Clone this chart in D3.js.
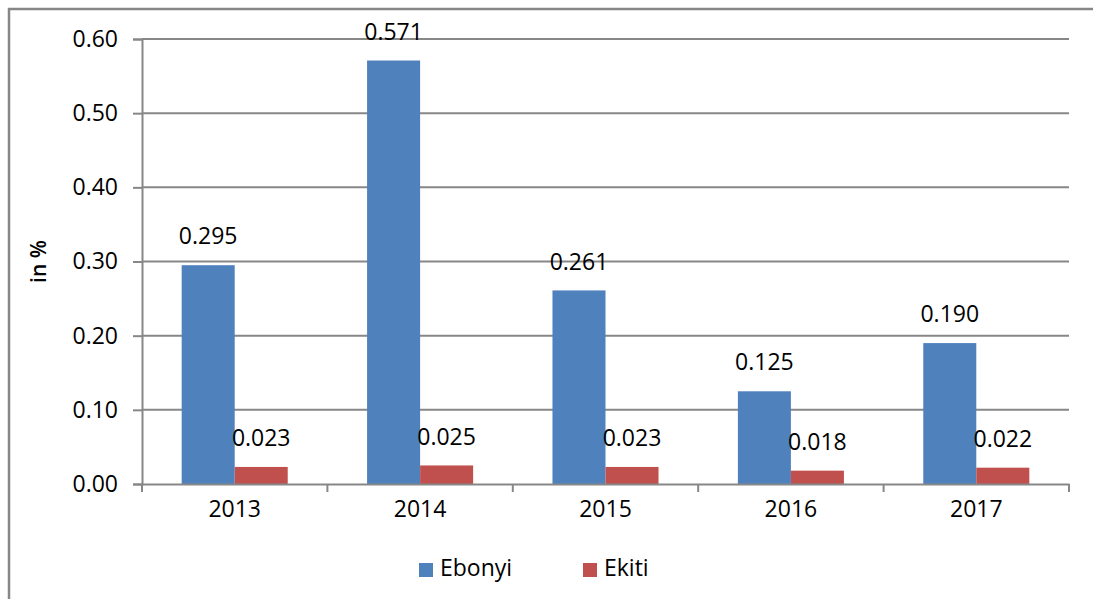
<!DOCTYPE html>
<html>
<head>
<meta charset="utf-8">
<script src="https://cdn.jsdelivr.net/npm/d3@7"></script>
<style>
  body { margin: 0; background: #fff; }
  text { font-family: "Open Sans", sans-serif; fill: #000; }
</style>
</head>
<body>
<script>
const width = 1093;
const height = 599;

const years = ["2013", "2014", "2015", "2016", "2017"];
const seriesNames = ["Ebonyi", "Ekiti"];
const ebonyi = [0.295, 0.571, 0.261, 0.125, 0.190];
const ekiti = [0.023, 0.025, 0.023, 0.018, 0.022];
const yTicks = [0, 0.1, 0.2, 0.3, 0.4, 0.5, 0.6];
const colors = ["#4F81BD", "#C0504D"];

const rows = years.map((y, i) => ({year: y, values: [ebonyi[i], ekiti[i]]}));

const margin = {top: 39, right: 24, bottom: 115, left: 142};
const fontSize = 23;
const gridColor = "#878787";

const svg = d3.select("body").append("svg")
              .attr("width", width)
              .attr("height", height);

// outer frame (runs off the right and bottom edges)
svg.append("rect")
   .attr("x", 9).attr("y", 9)
   .attr("width", width + 20).attr("height", height + 20)
   .attr("fill", "none")
   .attr("stroke", gridColor)
   .attr("stroke-width", 2.5);

const x = d3.scaleBand()
            .domain(years)
            .range([margin.left, width - margin.right]);

const groupWidth = x.bandwidth() * 0.572;
const xInner = d3.scaleBand()
                 .domain(seriesNames)
                 .range([0, groupWidth]);

const y = d3.scaleLinear()
            .domain([0, 0.6])
            .range([height - margin.bottom, margin.top]);

// gridlines
svg.append("g")
   .selectAll("line")
   .data(yTicks.slice(1))
   .join("line")
   .attr("x1", margin.left).attr("x2", width - margin.right)
   .attr("y1", d => y(d)).attr("y2", d => y(d))
   .attr("stroke", gridColor)
   .attr("stroke-width", 2);

// y axis
const yAxis = svg.append("g")
   .attr("transform", `translate(${margin.left},0)`)
   .call(d3.axisLeft(y).tickValues(yTicks).tickFormat(d3.format(".2f")).tickSize(9).tickPadding(15));
yAxis.select(".domain").attr("stroke", gridColor).attr("stroke-width", 2);
yAxis.selectAll(".tick line").attr("stroke", gridColor).attr("stroke-width", 2);
yAxis.selectAll(".tick text").style("font-size", fontSize + "px").attr("font-family", null);

// bars
const groups = svg.append("g")
   .selectAll("g")
   .data(rows)
   .join("g")
   .attr("transform", d => `translate(${x(d.year) + (x.bandwidth() - groupWidth) / 2},0)`);

groups.selectAll("rect")
   .data(d => d.values.map((v, i) => ({name: seriesNames[i], value: v, i})))
   .join("rect")
   .attr("x", d => xInner(d.name))
   .attr("width", xInner.bandwidth())
   .attr("y", d => y(d.value))
   .attr("height", d => y(0) - y(d.value))
   .attr("fill", d => colors[d.i]);

groups.selectAll("text")
   .data(d => d.values.map((v, i) => ({name: seriesNames[i], value: v})))
   .join("text")
   .attr("x", d => xInner(d.name) + xInner.bandwidth() / 2)
   .attr("y", d => y(d.value) - 27)
   .attr("text-anchor", "middle")
   .attr("dominant-baseline", "middle")
   .style("font-size", fontSize + "px")
   .text(d => d3.format(".3f")(d.value));

// x axis
const xAxis = svg.append("g")
   .attr("transform", `translate(0,${y(0)})`)
   .call(d3.axisBottom(x).tickSize(0).tickPadding(25));
xAxis.select(".domain").attr("stroke", gridColor).attr("stroke-width", 2);
xAxis.selectAll(".tick text").style("font-size", fontSize + "px").attr("font-family", null)
     .attr("dy", "0.35em");
xAxis.selectAll("line.sep")
     .data(years.map(d => x(d)).concat([x(years[years.length - 1]) + x.bandwidth()]))
     .join("line")
     .attr("class", "sep")
     .attr("x1", d => d).attr("x2", d => d)
     .attr("y1", 0).attr("y2", 8)
     .attr("stroke", gridColor)
     .attr("stroke-width", 2);

// y title
svg.append("text")
   .attr("transform", `translate(40,${(margin.top + y(0)) / 2}) rotate(-90)`)
   .attr("text-anchor", "middle")
   .attr("dominant-baseline", "middle")
   .style("font-size", "21px")
   .style("font-weight", "600")
   .text("in %");

// legend
const legendPos = [419, 583];
const legend = svg.append("g")
   .selectAll("g")
   .data(seriesNames)
   .join("g")
   .attr("transform", (d, i) => `translate(${legendPos[i]},570)`);
legend.append("rect")
   .attr("x", 0).attr("y", -7)
   .attr("width", 14).attr("height", 14)
   .attr("fill", (d, i) => colors[i]);
legend.append("text")
   .attr("x", 21)
   .attr("dominant-baseline", "middle")
   .style("font-size", fontSize + "px")
   .text(d => d);
</script>
</body>
</html>
